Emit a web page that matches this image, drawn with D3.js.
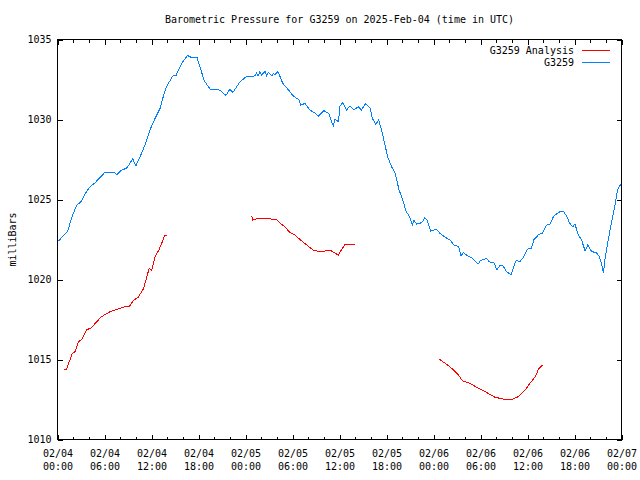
<!DOCTYPE html>
<html>
<head>
<meta charset="utf-8">
<script src="https://cdn.jsdelivr.net/npm/d3@7"></script>
<style>
  html, body { margin: 0; padding: 0; background: #fff; }
  svg { display: block; }
  text { font-family: "DejaVu Sans Mono", "Liberation Mono", monospace; font-size: 10px; fill: #000; }
</style>
</head>
<body>
<script>
// ---- Data (hours since 2025-02-04 00:00 UTC, pressure in mb) ----
const chartTitle = "Barometric Pressure for G3259 on 2025-Feb-04 (time in UTC)";
const yLabel = "milliBars";
const seriesNames = ["G3259 Analysis", "G3259"];
const yTicks = [1010, 1015, 1020, 1025, 1030, 1035];

const stationHours = [0.1,1.3,1.7,2.0,2.45,3.0,3.7,4.15,4.8,5.4,6.05,7.25,7.55,8.2,8.8,9.25,9.6,10.0,10.5,10.95,
  11.4,11.8,12.45,13.1,13.5,13.9,14.8,15.1,15.85,16.6,17.0,17.8,18.05,18.75,19.5,20.7,21.5,22.0,22.4,23.3,
  24.15,25.2,25.4,25.6,25.85,26.07,26.27,26.5,26.7,26.9,27.1,27.35,27.55,27.77,28.06,28.28,
  28.75,29.5,30.1,30.9,31.0,31.6,32.2,32.9,33.3,34.0,34.6,35.2,35.4,35.9,
  36.0,36.4,36.9,37.35,37.85,38.4,38.8,39.35,39.9,40.2,40.65,41.0,41.4,41.8,42.2,42.65,43.1,43.6,44.15,44.5,
  44.9,45.3,45.5,45.85,46.5,46.9,47.2,47.65,48.4,48.8,49.5,50.1,50.6,51.2,51.5,51.8,52.4,53.0,53.7,54.0,
  54.8,55.1,55.7,56.1,56.5,56.9,57.3,57.9,58.3,58.55,59.0,59.5,60.0,60.5,60.8,61.4,61.9,62.4,62.9,63.3,
  63.7,64.15,64.6,65.0,65.4,65.8,66.05,66.5,66.9,67.35,67.7,68.2,68.8,69.2,69.5,69.7,69.9,70.3,70.7,71.1,71.5,71.95];
const stationPressure = [1022.4,1023.0,1023.7,1024.1,1024.65,1024.86,1025.5,1025.8,1026.05,1026.36,1026.7,1026.7,1026.55,1026.84,1026.95,1027.26,1027.55,1027.1,1027.64,1028.14,
  1028.72,1029.34,1030.07,1030.7,1031.43,1032.05,1032.78,1032.72,1033.5,1034.0,1033.9,1033.9,1033.5,1032.4,1031.9,1031.84,1031.5,1031.9,1031.7,1032.36,
  1032.7,1032.72,1032.89,1032.72,1032.99,1032.78,1032.89,1032.99,1032.72,1032.93,1032.85,1032.72,1032.89,1032.78,1032.99,1032.85,
  1032.26,1031.84,1031.47,1031.2,1030.9,1031.0,1030.6,1030.4,1030.2,1030.55,1030.4,1029.6,1030.0,1029.86,
  1030.8,1031.05,1030.6,1030.84,1030.6,1030.8,1030.6,1031.0,1030.7,1030.07,1029.7,1029.97,1029.3,1028.4,1027.6,1027.05,1026.64,1025.6,1024.86,1024.24,
  1023.97,1023.4,1023.7,1023.47,1023.55,1023.86,1023.7,1023.03,1023.14,1022.9,1022.64,1022.47,1022.16,1022.05,1021.47,1021.68,1021.47,1021.32,1020.97,1021.18,
  1021.32,1021.1,1021.07,1020.6,1020.9,1020.84,1020.5,1020.28,1020.9,1021.2,1021.1,1021.4,1021.9,1021.95,1022.47,1022.8,1022.9,1023.4,1023.47,1023.93,
  1024.1,1024.24,1024.24,1023.97,1023.5,1023.3,1023.47,1022.78,1022.47,1021.8,1022.16,1021.74,1021.68,1021.4,1020.9,1020.4,1021.3,1022.47,1023.5,1024.45,1025.6,1026.0];

const analysis1Hours = [0.87,1.17,1.6,1.9,2.23,2.66,3.1,3.7,4.36,4.9,5.6,6.7,7.8,8.6,9.2,9.7,10.3,10.95,11.3,11.7,12.0,12.45,12.9,13.3,13.7,14.0];
const analysis1Pressure = [1014.39,1014.4,1015.0,1015.39,1015.49,1016.1,1016.26,1016.84,1017.0,1017.3,1017.67,1017.99,1018.16,1018.3,1018.34,1018.7,1018.89,1019.4,1019.97,1020.7,1020.55,1021.43,1021.8,1022.26,1022.78,1022.78];

const analysis2Hours = [24.8,24.9,25.6,27.0,27.55,27.9,28.6,29.0,29.7,30.3,30.96,31.8,32.65,33.5,34.15,34.8,35.3,35.85,36.3,36.7,38.0];
const analysis2Pressure = [1023.97,1023.72,1023.82,1023.82,1023.72,1023.76,1023.45,1023.3,1022.93,1022.78,1022.5,1022.16,1021.84,1021.74,1021.78,1021.84,1021.68,1021.53,1021.89,1022.2,1022.2];

const analysis3Hours = [48.75,49.5,50.1,50.75,51.2,51.7,52.7,53.5,54.6,55.85,56.9,57.8,58.8,59.7,60.3,61.0,61.4,61.8,62.0];
const analysis3Pressure = [1015.01,1014.76,1014.55,1014.24,1014.03,1013.66,1013.51,1013.26,1012.99,1012.64,1012.53,1012.47,1012.67,1013.09,1013.5,1013.93,1014.39,1014.6,1014.6];

// ---- Layout ----
const W = 640, H = 480;
const plotLeft = 57.5, plotRight = 621.5, plotTop = 39.5, plotBottom = 439.5;
const colorAnalysis = "#ff0000", colorStation = "#0080ff";

const t0 = Date.UTC(2025, 1, 4, 0, 0);
const toDate = h => new Date(t0 + h * 3600e3);

const x = d3.scaleUtc().domain([toDate(0), toDate(72)]).range([plotLeft, plotRight]);
const y = d3.scaleLinear().domain([1010, 1035]).range([plotBottom, plotTop]);

const svg = d3.select("body").append("svg").attr("width", W).attr("height", H);

const majorTicks = d3.utcHour.every(6).range(toDate(0), toDate(72.01));
const minorTicks = d3.utcHour.every(2).range(toDate(0), toDate(72.01)).filter(d => d.getUTCHours() % 6 !== 0);

function styleAxis(g) {
  g.attr("font-family", null).attr("font-size", null);
  g.select(".domain").remove();
  g.selectAll("line").attr("stroke", "#000").attr("shape-rendering", "crispEdges");
}

// bottom axis major with labels
const fmtDate = d3.utcFormat("%m/%d"), fmtTime = d3.utcFormat("%H:%M");
const gB = svg.append("g").attr("transform", `translate(0,${plotBottom})`)
  .call(d3.axisBottom(x).tickValues(majorTicks).tickSizeInner(-5).tickSizeOuter(0).tickFormat(""));
styleAxis(gB);
gB.selectAll(".tick text").each(function(d) {
  const t = d3.select(this).attr("y", null).attr("dy", null);
  t.append("tspan").attr("x", 0).attr("y", 17.5).text(fmtDate(d));
  t.append("tspan").attr("x", 0).attr("y", 30.5).text(fmtTime(d));
});
svg.append("g").attr("transform", `translate(0,${plotBottom})`)
  .call(d3.axisBottom(x).tickValues(minorTicks).tickSizeInner(-3).tickSizeOuter(0).tickFormat(""))
  .call(styleAxis);
// top axis mirror
svg.append("g").attr("transform", `translate(0,${plotTop})`)
  .call(d3.axisTop(x).tickValues(majorTicks).tickSizeInner(-5).tickSizeOuter(0).tickFormat(""))
  .call(styleAxis);
svg.append("g").attr("transform", `translate(0,${plotTop})`)
  .call(d3.axisTop(x).tickValues(minorTicks).tickSizeInner(-3).tickSizeOuter(0).tickFormat(""))
  .call(styleAxis);
// left axis
svg.append("g").attr("transform", `translate(${plotLeft},0)`)
  .call(d3.axisLeft(y).tickValues(yTicks).tickSizeInner(-5).tickSizeOuter(0).tickPadding(6).tickFormat(d3.format("d")))
  .call(styleAxis);
// right axis mirror
svg.append("g").attr("transform", `translate(${plotRight},0)`)
  .call(d3.axisRight(y).tickValues(yTicks).tickSizeInner(-5).tickSizeOuter(0).tickFormat(""))
  .call(styleAxis);

// frame
svg.append("rect").attr("x", plotLeft).attr("y", plotTop).attr("width", plotRight - plotLeft).attr("height", plotBottom - plotTop)
  .attr("fill", "none").attr("stroke", "#000").attr("shape-rendering", "crispEdges");

// lines
const line = d3.line().x(d => x(toDate(d[0]))).y(d => y(d[1]));
const zip = (a, b) => a.map((h, i) => [h, b[i]]);
[[analysis1Hours, analysis1Pressure], [analysis2Hours, analysis2Pressure], [analysis3Hours, analysis3Pressure]]
  .forEach(([h, p]) => {
    svg.append("path").datum(zip(h, p)).attr("d", line)
      .attr("fill", "none").attr("stroke", colorAnalysis).attr("stroke-width", 1)
      .attr("shape-rendering", "crispEdges");
  });
svg.append("path").datum(zip(stationHours, stationPressure)).attr("d", line)
  .attr("fill", "none").attr("stroke", colorStation).attr("stroke-width", 1)
  .attr("shape-rendering", "crispEdges");

// title
svg.append("text").attr("x", (plotLeft + plotRight) / 2).attr("y", 23).attr("text-anchor", "middle").text(chartTitle);
// y label
svg.append("text").attr("transform", `translate(15.5,${(plotTop + plotBottom) / 2}) rotate(-90)`)
  .attr("text-anchor", "middle").text(yLabel);

// legend
const legendColors = [colorAnalysis, colorStation];
seriesNames.forEach((name, i) => {
  const ly = 50.5 + i * 12;
  svg.append("text").attr("x", 574).attr("y", ly + 3.5).attr("text-anchor", "end").text(name);
  svg.append("line").attr("x1", 582).attr("x2", 610).attr("y1", ly).attr("y2", ly)
    .attr("stroke", legendColors[i]).attr("stroke-width", 1).attr("shape-rendering", "crispEdges");
});
</script>
</body>
</html>
